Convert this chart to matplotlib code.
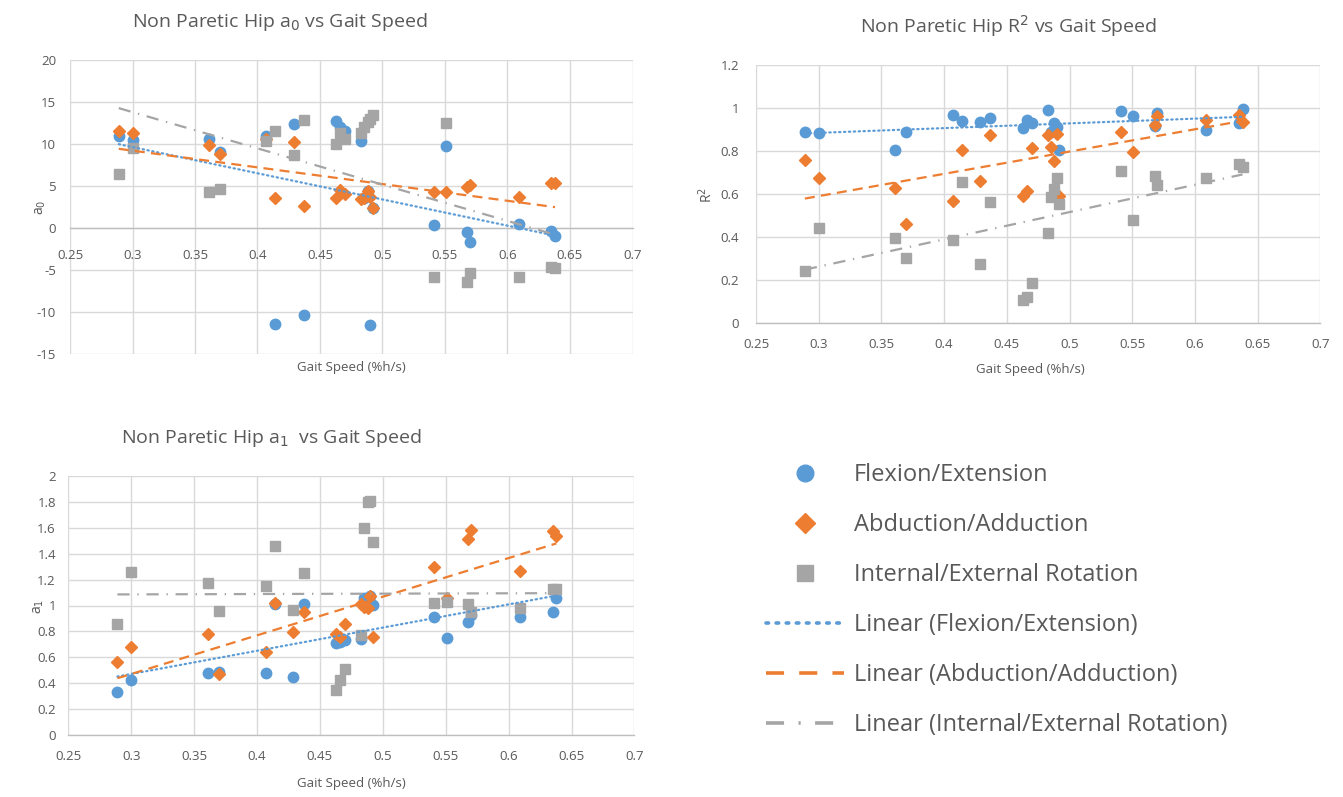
import numpy as np
import matplotlib
matplotlib.use("Agg")
import matplotlib.pyplot as plt
from matplotlib.lines import Line2D
from matplotlib.ticker import FuncFormatter

plt.rcParams['font.family'] = ['Open Sans', 'DejaVu Sans']

# ---------------- data ----------------
speed = [0.289, 0.300, 0.361, 0.370, 0.407, 0.414, 0.429, 0.437, 0.463, 0.466, 0.470,
         0.483, 0.485, 0.488, 0.490, 0.492, 0.541, 0.551, 0.568, 0.570, 0.609, 0.635, 0.638]

a0_flex = [10.9, 10.5, 10.6, 9.1, 10.9, -11.4, 12.4, -10.4, 12.7, 12.0, 11.5,
           10.4, 3.6, 4.4, -11.6, 2.4, 0.3, 9.8, -0.5, -1.7, 0.5, -0.3, -1.0]
a0_abd = [11.5, 11.3, 9.9, 8.8, 10.6, 3.6, 10.2, 2.6, 3.6, 4.5, 4.0,
          3.5, 3.6, 4.4, 3.7, 2.4, 4.3, 4.3, 4.9, 5.1, 3.7, 5.3, 5.3]
a0_rot = [6.4, 9.5, 4.3, 4.7, 10.3, 11.5, 8.7, 12.9, 10.0, 11.3, 10.6,
          11.3, 12.0, 12.6, 13.0, 13.4, -5.8, 12.5, -6.4, -5.3, -5.8, -4.7, -4.8]

r2_flex = [0.887, 0.884, 0.806, 0.887, 0.969, 0.942, 0.935, 0.953, 0.907, 0.946, 0.930,
           0.990, 0.890, 0.930, 0.914, 0.806, 0.987, 0.964, 0.915, 0.977, 0.899, 0.930, 0.995]
r2_abd = [0.760, 0.677, 0.628, 0.460, 0.566, 0.803, 0.663, 0.873, 0.590, 0.615, 0.814,
          0.876, 0.818, 0.755, 0.880, 0.590, 0.891, 0.794, 0.922, 0.964, 0.946, 0.969, 0.933]
r2_rot = [0.245, 0.442, 0.395, 0.302, 0.387, 0.656, 0.276, 0.563, 0.107, 0.120, 0.186,
          0.419, 0.586, 0.623, 0.677, 0.555, 0.708, 0.480, 0.682, 0.643, 0.677, 0.740, 0.726]

a1_flex = [0.33, 0.425, 0.476, 0.489, 0.476, 1.01, 0.446, 1.01, 0.708, 0.72, 0.734,
           0.739, 1.055, 1.03, 1.07, 1.004, 0.913, 0.747, 0.87, 0.93, 0.913, 0.952, 1.055]
a1_abd = [0.566, 0.677, 0.78, 0.469, 0.643, 1.017, 0.798, 0.952, 0.78, 0.76, 0.857,
          1.01, 0.99, 0.978, 1.07, 0.76, 1.30, 1.055, 1.51, 1.583, 1.269, 1.575, 1.537]
a1_rot = [0.857, 1.261, 1.176, 0.96, 1.153, 1.462, 0.965, 1.249, 0.347, 0.425, 0.507,
          0.772, 1.596, 1.80, 1.81, 1.493, 1.022, 1.03, 1.012, 0.952, 0.983, 1.125, 1.13]

series_names = ["Flexion/Extension", "Abduction/Adduction", "Internal/External Rotation"]

# ---------------- style ----------------
BLUE, ORANGE, GRAY = "#5B9BD5", "#ED7D31", "#A5A5A5"
TXT = "#595959"
GRID = "#D9D9D9"
colors = [BLUE, ORANGE, GRAY]
markers = ["o", "D", "s"]
msizes = [7.5, 6.2, 7.2]
trend_styles = [(0, (0.6, 1.6)), (0, (4.5, 2.8)), (0, (5.5, 3.5, 0.6, 3.5))]
trend_caps = ["round", "butt", "butt"]

W, H = 1343, 797
fig = plt.figure(figsize=(W / 100, H / 100), dpi=100)
fig.patch.set_facecolor("white")


def fmt(v, pos):
    s = ("%.2f" % v).rstrip("0").rstrip(".")
    if s == "-0":
        s = "0"
    return s


def make_ax(rect_px, ylim, yticks, xpad, ypad):
    l, r, t, b = rect_px
    ax = fig.add_axes([l / W, 1 - b / H, (r - l) / W, (b - t) / H])
    ax.set_xlim(0.25, 0.7)
    ax.set_ylim(*ylim)
    ax.set_xticks(np.arange(0.25, 0.7001, 0.05))
    ax.set_yticks(yticks)
    ax.xaxis.set_major_formatter(FuncFormatter(fmt))
    ax.yaxis.set_major_formatter(FuncFormatter(fmt))
    ax.grid(True, color=GRID, lw=1.0, zorder=0)
    for s in ["top", "right", "left"]:
        ax.spines[s].set_visible(False)
    ax.spines["bottom"].set_color("#BFBFBF")
    ax.spines["bottom"].set_linewidth(1.0)
    ax.spines["bottom"].set_zorder(1)
    ax.tick_params(length=0, labelsize=9.5, labelcolor=TXT)
    ax.tick_params(axis="x", pad=xpad)
    ax.tick_params(axis="y", pad=ypad)
    ax.set_axisbelow(True)
    return ax


def draw(ax, ys):
    x = np.array(speed)
    for i, y in enumerate(ys):
        ax.plot(x, y, linestyle="none", marker=markers[i], ms=msizes[i],
                mfc=colors[i], mec=colors[i], zorder=3 + i, clip_on=False)
    for i, y in enumerate(ys):
        k, c = np.polyfit(x, np.array(y), 1)
        xx = np.array([x.min(), x.max()])
        ax.plot(xx, k * xx + c, color=colors[i], lw=1.6, linestyle=trend_styles[i],
                dash_capstyle=trend_caps[i], zorder=7)


# top-left: a0
ax1 = make_ax((70, 632.5, 60, 354), (-15, 20), np.arange(-15, 20.1, 5), 15, 10)
ax1.spines["bottom"].set_position(("data", 0))
draw(ax1, [a0_flex, a0_abd, a0_rot])

# top-right: R^2
ax2 = make_ax((756, 1320.3, 65, 323.3), (0, 1.2), np.arange(0, 1.201, 0.2), 10.5, 12)
draw(ax2, [r2_flex, r2_abd, r2_rot])

# bottom-left: a1
ax3 = make_ax((68.3, 634.4, 476, 735), (0, 2), np.arange(0, 2.001, 0.2), 10.5, 9)
draw(ax3, [a1_flex, a1_abd, a1_rot])

# titles & labels (figure pixel positions)
def ftxt(x, y, s, **kw):
    fig.text(x / W, 1 - y / H, s, color=TXT, **kw)

ftxt(280, 22, r"Non Paretic Hip a$_0$ vs Gait Speed", fontsize=14, ha="center", va="center")
ftxt(1008, 26, r"Non Paretic Hip R$^2$ vs Gait Speed", fontsize=14, ha="center", va="center")
ftxt(271, 438, r"Non Paretic Hip a$_1$  vs Gait Speed", fontsize=14, ha="center", va="center")

ftxt(351, 368, "Gait Speed (%h/s)", fontsize=9.5, ha="center", va="center")
ftxt(1030, 369, "Gait Speed (%h/s)", fontsize=9.5, ha="center", va="center")
ftxt(351, 784, "Gait Speed (%h/s)", fontsize=9.5, ha="center", va="center")

ftxt(40, 207, r"a$_0$", fontsize=10, ha="center", va="center", rotation=90)
ftxt(707, 195, r"R$^2$", fontsize=10, ha="center", va="center", rotation=90)
ftxt(38, 606, r"a$_1$", fontsize=10, ha="center", va="center", rotation=90)

# legend
handles = [
    Line2D([], [], linestyle="none", marker="o", ms=12, mfc=BLUE, mec=BLUE),
    Line2D([], [], linestyle="none", marker="D", ms=10, mfc=ORANGE, mec=ORANGE),
    Line2D([], [], linestyle="none", marker="s", ms=11.5, mfc=GRAY, mec=GRAY),
    Line2D([], [], color=BLUE, lw=2.6, linestyle=(0, (0.7, 2.1)), dash_capstyle="round"),
    Line2D([], [], color=ORANGE, lw=2.6, linestyle=(0, (5.0, 4.2))),
    Line2D([], [], color=GRAY, lw=2.6, linestyle=(0, (5.0, 4.0, 0.6, 4.0))),
]
labels = series_names + ["Linear (%s)" % n for n in series_names]
leg = fig.legend(handles, labels, loc="upper left", bbox_to_anchor=(766 / W, 1 - 463 / H),
                 frameon=False, fontsize=17, handlelength=3.3, handletextpad=0.42,
                 labelspacing=1.1, borderaxespad=0, borderpad=0)
for t in leg.get_texts():
    t.set_color(TXT)

fig.savefig("out.png", dpi=100, facecolor="white")
